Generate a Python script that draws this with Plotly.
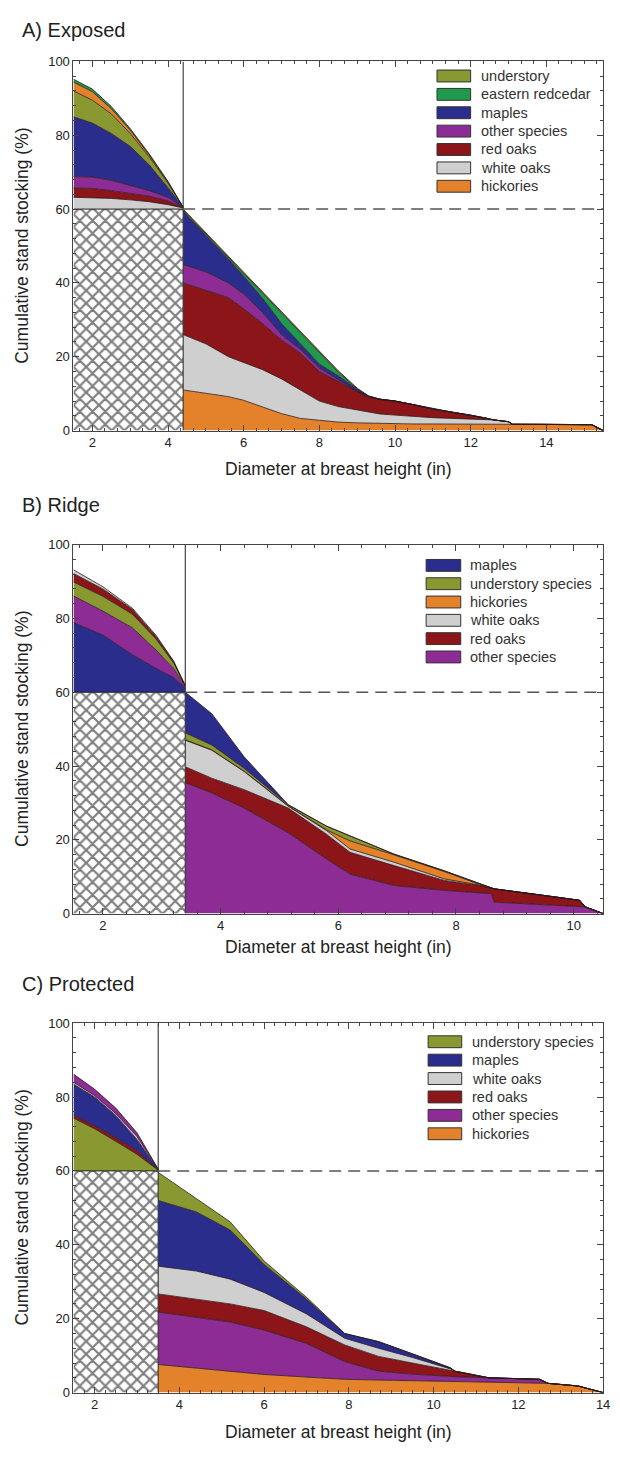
import plotly.graph_objects as go

# ---------------- DATA ----------------
TARGET_STOCKING = 60          # % (horizontal reference)
Y_MAX = 100

# ---- Panel A: Exposed ----
A_threshold = 4.4
A_xrange = [1.5, 15.5]
A_x_left = [1.5, 2.0, 2.5, 3.0, 3.5, 4.0, 4.4]
A_left_white_oaks = [3.2, 3.1, 2.9, 2.5, 2.0, 1.2, 0.3]
A_left_red_oaks = [2.5, 2.5, 2.1, 1.8, 1.5, 1.0, 0.1]
A_left_other = [3.1, 3.1, 2.8, 2.2, 1.5, 1.0, 0.05]
A_left_maples = [16.2, 14.6, 12.7, 10.5, 7.0, 2.6, 0.0]
A_left_understory = [7.0, 6.2, 5.3, 3.5, 2.2, 1.2, 0.05]
A_left_hickories = [2.4, 2.3, 1.4, 0.9, 0.5, 0.3, 0.0]
A_left_redcedar = [0.8, 0.7, 0.6, 0.4, 0.3, 0.2, 0.0]

A_x_right = [4.4, 5.0, 5.6, 6.0, 6.5, 7.0, 7.5, 8.0, 8.5, 9.0, 9.3, 9.6, 10.0,
             10.5, 11.0, 11.5, 12.0, 12.4, 12.6, 13.0, 13.1, 14.0, 15.0, 15.2, 15.5]
A_right_hickories = [11, 10.2, 9.2, 8.2, 6.3, 4.6, 3.3, 2.7, 2.3, 2.1, 2.0, 1.9, 1.9,
                     1.8, 1.8, 1.8, 1.8, 1.7, 1.7, 1.7, 1.7, 1.7, 1.7, 1.6, 0]
A_right_white_oaks = [15, 13.3, 10.8, 10.3, 10.2, 9.4, 7.7, 5.3, 4.2, 3.4, 3.0, 2.6, 2.3,
                      2.0, 1.7, 1.5, 1.3, 1.3, 1.2, 0.7, 0, 0, 0, 0, 0]
A_right_red_oaks = [14, 14.5, 16, 14.5, 12.5, 10.5, 10, 8, 6.8, 4.9, 4.0, 4.0, 3.8,
                    3.2, 2.3, 1.7, 1.1, 0.4, 0, 0, 0, 0, 0, 0, 0]
A_right_other = [5, 5, 4, 4, 3, 1.5, 1.0, 1.0, 0.5, 0.2, 0.2, 0, 0,
                 0, 0, 0, 0, 0, 0, 0, 0, 0, 0, 0, 0]
A_right_maples = [14.4, 10, 6.4, 4.8, 3.8, 3.0, 1.5, 1.0, 1.0, 0.6, 0.1, 0, 0,
                  0, 0, 0, 0, 0, 0, 0, 0, 0, 0, 0, 0]
A_right_redcedar = [0.3, 0.3, 0.5, 0.7, 1.3, 2.8, 2.9, 3.1, 1.0, 0.1, 0.05, 0, 0,
                    0, 0, 0, 0, 0, 0, 0, 0, 0, 0, 0, 0]
A_right_understory = [0.3, 0.3, 0.3, 0.4, 0.4, 0.4, 0.4, 0.4, 0.4, 0.2, 0.05, 0, 0,
                      0, 0, 0, 0, 0, 0, 0, 0, 0, 0, 0, 0]

# ---- Panel B: Ridge ----
B_threshold = 3.4
B_xrange = [1.5, 10.5]
B_x_left = [1.5, 2.0, 2.5, 2.9, 3.2, 3.4]
B_left_maples = [18.9, 15.5, 10.2, 6.5, 4.0, 1.2]
B_left_other = [7.2, 6.5, 7.3, 5.0, 2.5, 0.3]
B_left_understory = [3.8, 4.0, 3.7, 3.0, 1.5, 0.2]
B_left_red_oaks = [2.3, 2.0, 1.3, 0.7, 0.4, 0.1]
B_left_white_oaks = [1.0, 0.6, 0.3, 0.3, 0.1, 0.0]

B_x_right = [3.4, 3.85, 4.4, 5.15, 5.8, 6.2, 6.95, 7.8, 8.4, 8.6, 8.65, 9.5, 10.1, 10.2, 10.5]
B_right_other = [35.5, 32.7, 28.6, 21.9, 14.8, 10.7, 7.6, 6.3, 5.6, 5.4, 3.1, 2.4, 1.8, 1.8, 0]
B_right_red_oaks = [4.3, 4.0, 5.0, 6.7, 6.7, 5.9, 5.4, 2.7, 2.0, 1.4, 3.6, 2.5, 1.8, 0, 0]
B_right_white_oaks = [7.2, 7.6, 4.9, 0.5, 1.0, 0.9, 0.9, 0.4, 0.1, 0, 0, 0, 0, 0, 0]
B_right_hickories = [0.1, 0.1, 0.1, 0.1, 0.2, 2.2, 2.0, 2.0, 0.2, 0, 0, 0, 0, 0, 0]
B_right_understory = [1.9, 1.3, 0.8, 0.3, 1.0, 1.4, 0.2, 0.2, 0.2, 0, 0, 0, 0, 0, 0]
B_right_maples = [11, 8.5, 3.1, 0, 0, 0, 0, 0, 0, 0, 0, 0, 0, 0, 0]

# ---- Panel C: Protected ----
C_threshold = 3.5
C_xrange = [1.5, 14.0]
C_x_left = [1.5, 2.0, 2.5, 3.0, 3.5]
C_left_understory = [14.3, 11.4, 8.0, 4.5, 0.2]
C_left_red_oaks = [0.8, 0.8, 1.0, 1.0, 0.1]
C_left_maples = [8.4, 7.8, 6.0, 3.0, 0.1]
C_left_white_oaks = [0.5, 0.4, 0.5, 0.8, 0.05]
C_left_other = [2.2, 1.7, 1.5, 1.0, 0.05]

C_x_right = [3.5, 4.4, 5.2, 6.0, 7.0, 7.9, 8.7, 9.5, 10.4, 10.5, 11.3, 12.5, 12.7, 13.4, 14.0]
C_right_hickories = [7.6, 6.7, 5.8, 4.9, 4.2, 3.6, 3.4, 3.2, 3.1, 3.1, 2.9, 2.6, 2.5, 1.8, 0]
C_right_other = [14.2, 13.7, 13.3, 12.0, 9.1, 4.8, 2.4, 1.8, 1.3, 1.2, 1.1, 1.0, 0, 0, 0]
C_right_red_oaks = [4.9, 4.9, 4.9, 5.3, 4.5, 4.5, 4.0, 3.0, 1.8, 1.5, 0, 0, 0, 0, 0]
C_right_white_oaks = [7.5, 7.6, 6.7, 4.9, 3.5, 1.8, 2.2, 1.5, 0.2, 0, 0, 0, 0, 0, 0]
C_right_maples = [17.8, 16.0, 13.3, 7.6, 4.0, 1.3, 1.8, 1.0, 0.3, 0, 0, 0, 0, 0, 0]
C_right_understory = [7.6, 3.5, 2.2, 0.9, 0.5, 0, 0, 0, 0, 0, 0, 0, 0, 0, 0]

# ---------------- STYLE ----------------
COL = {
    "understory": "#8A9832",
    "redcedar": "#1F9A4C",
    "maples": "#2B2D8C",
    "other": "#8E2C96",
    "red_oaks": "#8B1518",
    "white_oaks": "#CFCFCF",
    "hickories": "#E4822C",
}
EDGE = "#2a1a1a"
FONT = "Liberation Sans, Arial, sans-serif"
W, H = 620, 1457
XDOM = [74.3 / W, 610 / W]

panels = [
    dict(idx=1, title="A) Exposed", title_y=23, xtitle_y=467, top=55, bot=428,
         thr=A_threshold, xr=A_xrange, minor=2 / 6,
         xl=A_x_left,
         left=[("white oaks", A_left_white_oaks, "white_oaks"), ("red oaks", A_left_red_oaks, "red_oaks"),
               ("other species", A_left_other, "other"), ("maples", A_left_maples, "maples"),
               ("understory", A_left_understory, "understory"), ("hickories", A_left_hickories, "hickories"),
               ("eastern redcedar", A_left_redcedar, "redcedar")],
         xr_pts=A_x_right,
         right=[("hickories", A_right_hickories, "hickories"), ("white oaks", A_right_white_oaks, "white_oaks"),
                ("red oaks", A_right_red_oaks, "red_oaks"), ("other species", A_right_other, "other"),
                ("maples", A_right_maples, "maples"), ("eastern redcedar", A_right_redcedar, "redcedar"),
                ("understory", A_right_understory, "understory")],
         leg=dict(sx0=442, sx1=476, tx=484, cy0=69.7, dy=18.57)),
    dict(idx=2, title="B) Ridge", title_y=503, xtitle_y=950, top=543.3, bot=916,
         thr=B_threshold, xr=B_xrange, minor=0.4,
         xl=B_x_left,
         left=[("maples", B_left_maples, "maples"), ("other species", B_left_other, "other"),
               ("understory species", B_left_understory, "understory"), ("red oaks", B_left_red_oaks, "red_oaks"),
               ("white oaks", B_left_white_oaks, "white_oaks")],
         xr_pts=B_x_right,
         right=[("other species", B_right_other, "other"), ("red oaks", B_right_red_oaks, "red_oaks"),
                ("white oaks", B_right_white_oaks, "white_oaks"), ("hickories", B_right_hickories, "hickories"),
                ("understory species", B_right_understory, "understory"), ("maples", B_right_maples, "maples")],
         leg=dict(sx0=431, sx1=466, tx=473, cy0=564.2, dy=18.5)),
    dict(idx=3, title="C) Protected", title_y=987, xtitle_y=1440, top=1026.7, bot=1400,
         thr=C_threshold, xr=C_xrange, minor=0.25,
         xl=C_x_left,
         left=[("understory species", C_left_understory, "understory"), ("red oaks", C_left_red_oaks, "red_oaks"),
               ("maples", C_left_maples, "maples"), ("white oaks", C_left_white_oaks, "white_oaks"),
               ("other species", C_left_other, "other")],
         xr_pts=C_x_right,
         right=[("hickories", C_right_hickories, "hickories"), ("other species", C_right_other, "other"),
                ("red oaks", C_right_red_oaks, "red_oaks"), ("white oaks", C_right_white_oaks, "white_oaks"),
                ("maples", C_right_maples, "maples"), ("understory species", C_right_understory, "understory")],
         leg=dict(sx0=433, sx1=467, tx=475, cy0=1045.5, dy=18.6)),
]

fig = go.Figure()
layout = dict(width=W, height=H, margin=dict(l=0, r=0, t=0, b=0), showlegend=False,
              paper_bgcolor="white", plot_bgcolor="white",
              font=dict(family=FONT, color="#222"), shapes=[], annotations=[])

for p in panels:
    i = p["idx"]
    xa = "x" if i == 1 else f"x{i}"
    ya = "y" if i == 1 else f"y{i}"

    # hatched block (stocking below target, left of threshold)
    fig.add_trace(go.Scatter(
        x=p["xl"], y=[TARGET_STOCKING] * len(p["xl"]), stackgroup=f"L{i}", mode="lines",
        line=dict(color="#222", width=1), fillcolor="white",
        fillpattern=dict(shape="x", fgcolor="#000", bgcolor="white", size=9, solidity=0.42),
        hoverinfo="skip", xaxis=xa, yaxis=ya))
    for name, vals, key in p["left"]:
        fig.add_trace(go.Scatter(
            x=p["xl"], y=vals, stackgroup=f"L{i}", mode="lines", name=name,
            line=dict(color=EDGE, width=0.8), fillcolor=COL[key], xaxis=xa, yaxis=ya))
    for name, vals, key in p["right"]:
        fig.add_trace(go.Scatter(
            x=p["xr_pts"], y=vals, stackgroup=f"R{i}", mode="lines", name=name,
            line=dict(color=EDGE, width=0.8), fillcolor=COL[key], xaxis=xa, yaxis=ya))

    ydom = [1 - p["bot"] / H, 1 - p["top"] / H]
    axis_common = dict(showline=True, linecolor="#444", linewidth=1, mirror="ticks",
                       ticks="inside", ticklen=6, tickcolor="#444", showgrid=False, zeroline=False,
                       tickfont=dict(size=13, color="#222", family=FONT))
    layout["xaxis" if i == 1 else f"xaxis{i}"] = dict(
        axis_common, domain=XDOM, anchor=ya, range=p["xr"], tick0=0, dtick=2,
        minor=dict(ticks="inside", ticklen=3, dtick=p["minor"], tick0=0, tickcolor="#444"))
    layout["yaxis" if i == 1 else f"yaxis{i}"] = dict(
        axis_common, domain=ydom, anchor=xa, range=[0, Y_MAX], tick0=0, dtick=20,
        minor=dict(ticks="inside", ticklen=3, dtick=4, tickcolor="#444"))

    # threshold vertical line and target dashed line
    layout["shapes"].append(dict(type="line", xref=xa, yref=ya, x0=p["thr"], x1=p["thr"],
                                 y0=0, y1=Y_MAX, line=dict(color="#333", width=1.1), layer="above"))
    layout["shapes"].append(dict(type="line", xref=xa, yref=ya, x0=p["thr"], x1=p["xr"][1],
                                 y0=TARGET_STOCKING, y1=TARGET_STOCKING,
                                 line=dict(color="#555", width=1.5, dash="12px,7px"), layer="above"))

    # legend (swatch + label), listed top-down in reverse stacking order
    lg = p["leg"]
    for k, (name, vals, key) in enumerate(reversed(p["right"])):
        cy = lg["cy0"] + k * lg["dy"]
        layout["shapes"].append(dict(type="rect", xref="paper", yref="paper",
                                     x0=lg["sx0"] / W, x1=lg["sx1"] / W,
                                     y0=1 - (cy + 6) / H, y1=1 - (cy - 6) / H,
                                     fillcolor=COL[key], line=dict(color="#333", width=1)))
        layout["annotations"].append(dict(text=name, xref="paper", yref="paper",
                                          x=lg["tx"] / W, y=1 - cy / H, xanchor="left",
                                          yanchor="middle", showarrow=False,
                                          font=dict(size=14.5, color="#333", family=FONT)))

    mid = (p["top"] + p["bot"]) / 2
    layout["annotations"] += [
        dict(text=p["title"], xref="paper", yref="paper", x=20 / W, y=1 - p["title_y"] / H,
             xanchor="left", yanchor="middle", showarrow=False,
             font=dict(size=20, color="#222", family=FONT)),
        dict(text="Diameter at breast height (in)", xref="paper", yref="paper",
             x=(XDOM[0] + XDOM[1]) / 2, y=1 - p["xtitle_y"] / H, xanchor="center",
             yanchor="middle", showarrow=False, font=dict(size=17.5, color="#222", family=FONT)),
        dict(text="Cumulative stand stocking (%)", xref="paper", yref="paper",
             x=22 / W, y=1 - mid / H, xanchor="center", yanchor="middle", textangle=-90,
             showarrow=False, font=dict(size=17.5, color="#222", family=FONT)),
    ]

fig.update_layout(**layout)
fig.write_html("out.html")
